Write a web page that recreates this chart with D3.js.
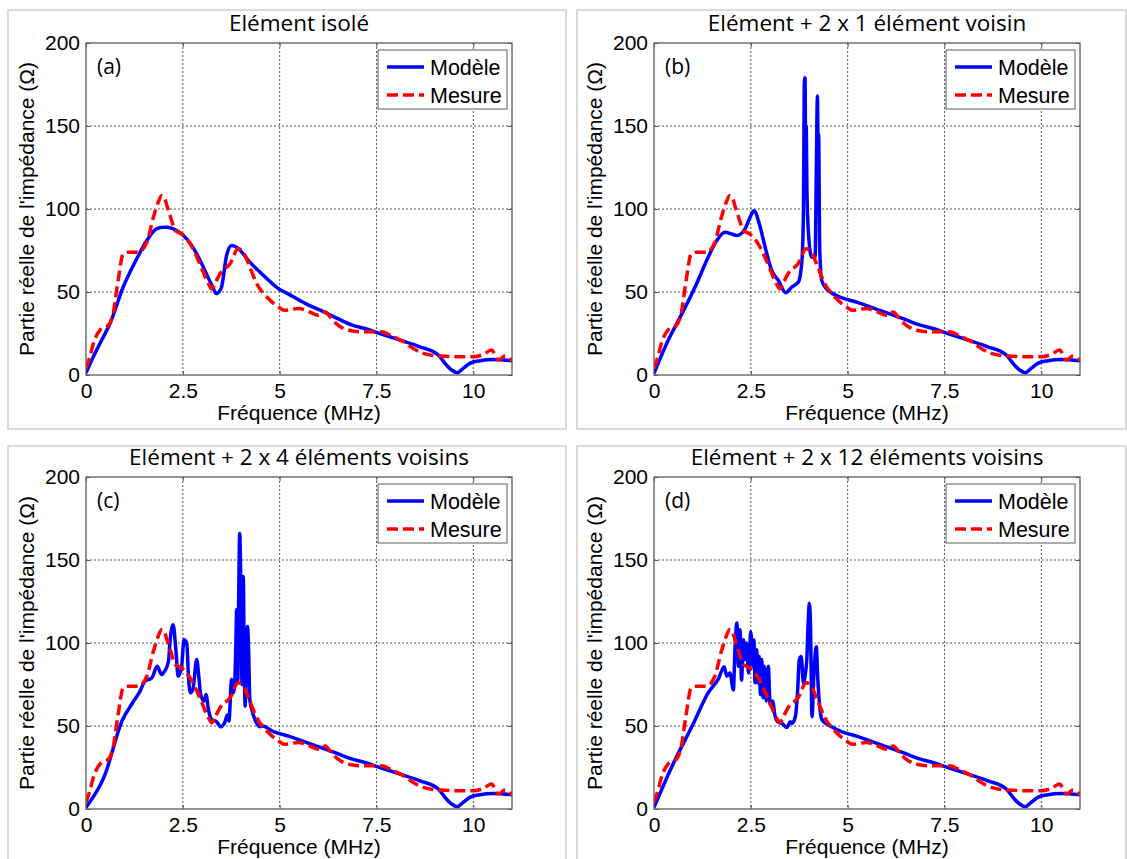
<!DOCTYPE html>
<html>
<head>
<meta charset="utf-8">
<script src="https://cdn.jsdelivr.net/npm/d3@7"></script>
<style>
  html, body { margin: 0; padding: 0; background: #ffffff; }
  svg { display: block; }
</style>
</head>
<body>
<svg id="chart" width="1127" height="859"></svg>
<script>
// ---------------- DATA ----------------
const xTickValues = [0, 2.5, 5, 7.5, 10];
const xTickLabels = ["0", "2.5", "5", "7.5", "10"];
const yTickValues = [0, 50, 100, 150, 200];
const yTickLabels = ["0", "50", "100", "150", "200"];

const panelTitles = [
  "Elément isolé",
  "Elément + 2 x 1 élément voisin",
  "Elément + 2 x 4 éléments voisins",
  "Elément + 2 x 12 éléments voisins"
];
const panelTags = ["(a)", "(b)", "(c)", "(d)"];
const seriesNames = ["Modèle", "Mesure"];

// Mesure (same measurement in every panel)
const mesureFreq = [0, 0.1, 0.19, 0.36, 0.5, 0.58, 0.7, 0.83, 0.96, 1.1, 1.35, 1.57, 1.74, 1.88, 1.95, 2.02, 2.1, 2.2, 2.3, 2.47, 2.69, 2.94, 3.16, 3.25, 3.35, 3.46, 3.72, 3.93, 4.06, 4.23, 4.41, 4.67, 4.97, 5.12, 5.49, 5.77, 6.0, 6.18, 6.3, 6.51, 6.79, 7.16, 7.62, 7.94, 8.2, 8.45, 8.71, 9.14, 9.6, 10.0, 10.26, 10.47, 10.65, 10.82, 11.0];
const mesureVal  = [4, 11, 19, 27, 29, 30, 37, 57, 73, 74, 74, 80, 95, 105, 108, 107, 101, 94, 87, 85, 79, 67, 55, 52, 56, 61, 67, 76, 74, 65, 55, 47, 41, 39, 40, 38, 36, 38, 35, 30, 27, 26, 26, 23, 20, 16, 13, 11.4, 11, 11, 12.4, 15, 9, 11.4, 8.6];

// Modèle (a) : isolated element
const modeleAFreq = [0, 0.23, 0.45, 0.62, 0.96, 1.31, 1.57, 1.82, 2.0, 2.08, 2.34, 2.6, 2.86, 3.07, 3.25, 3.37, 3.43, 3.5, 3.63, 3.76, 3.89, 4.23, 4.58, 4.97, 5.21, 5.67, 6.14, 6.5, 6.88, 7.2, 7.59, 8.11, 8.62, 9.1, 9.27, 9.44, 9.59, 9.74, 9.91, 10.17, 10.52, 11.0];
const modeleAVal  = [1.4, 13, 23, 31, 53, 70, 81, 88, 89, 89, 87, 82, 73, 63, 54, 49, 50, 53, 72, 78, 77, 68, 60, 52, 49, 43, 38, 34, 30, 28, 25, 21, 17, 12, 7, 3, 1.4, 4, 7, 8.6, 9.4, 8.6];

// Modèle (b), (c), (d) : low-frequency part
const modeleBFreq = [0, 0.41, 0.59, 1.1, 1.36, 1.62, 1.83, 2.0, 2.14, 2.35, 2.5, 2.58, 2.72, 2.87, 3.04, 3.21, 3.4, 3.56, 3.73, 3.82, 3.86, 3.88, 3.9, 3.92, 3.93, 3.95, 3.99, 4.07, 4.16, 4.19, 4.22, 4.24, 4.25, 4.28, 4.33, 4.45];
const modeleBVal  = [1, 23, 31, 55, 69, 81, 86, 85, 84, 88, 96, 99, 91, 77, 63, 57, 49.6, 53, 56, 69, 100, 175, 179, 120, 150, 110, 85, 71, 71, 120, 168, 120, 145, 75, 57, 52];

const modeleCFreq = [0, 0.47, 0.94, 1.22, 1.39, 1.52, 1.7, 1.84, 1.95, 2.03, 2.13, 2.17, 2.25, 2.32, 2.38, 2.47, 2.53, 2.6, 2.65, 2.7, 2.76, 2.86, 2.92, 2.96, 3.05, 3.1, 3.16, 3.24, 3.37, 3.48, 3.59, 3.65, 3.69, 3.76, 3.8, 3.84, 3.87, 3.89, 3.92, 3.94, 3.97, 4.0, 4.03, 4.06, 4.09, 4.11, 4.13, 4.17, 4.2, 4.23, 4.28, 4.36, 4.49];
const modeleCVal  = [1, 19.5, 53.6, 64.6, 70.7, 77, 79, 86, 81, 83, 89, 101, 111, 96, 80, 86, 102, 100, 78, 70, 72, 90, 78, 69, 65, 69, 60, 54, 52.6, 49.6, 52.6, 56.6, 53, 78, 70, 76, 100, 120, 77, 122, 166, 130, 75, 140, 80, 62, 78, 110, 95, 66, 60, 54, 49.6];

const modeleDFreq = [0, 0.46, 1.02, 1.39, 1.67, 1.81, 1.88, 1.96, 2.05, 2.09, 2.14, 2.18, 2.22, 2.26, 2.31, 2.35, 2.39, 2.44, 2.5, 2.55, 2.58, 2.61, 2.65, 2.68, 2.71, 2.75, 2.78, 2.82, 2.85, 2.9, 2.95, 3.0, 3.06, 3.13, 3.19, 3.3, 3.43, 3.52, 3.56, 3.65, 3.71, 3.75, 3.8, 3.86, 3.9, 3.95, 3.98, 4.01, 4.04, 4.08, 4.13, 4.19, 4.23, 4.28, 4.34];
const modeleDVal  = [1, 25.5, 51.6, 69.7, 78.7, 85.7, 80, 82, 71.7, 95.8, 112, 86, 108, 77.7, 102, 90, 100, 82, 106.8, 86, 101.8, 76, 96, 76, 92, 69, 90, 67, 86, 65, 86, 63, 65, 55.6, 52.6, 51.6, 49.2, 52.6, 51.6, 55.6, 71.7, 89.8, 91.8, 75.7, 80, 92, 112, 124, 112, 55.6, 81.7, 97.8, 78, 61.6, 53.6];

// Modèle (b), (c), (d) : common high-frequency part
const tailFreq = [4.55, 4.84, 5.27, 5.87, 6.47, 6.88, 7.2, 7.59, 8.11, 8.62, 9.1, 9.27, 9.44, 9.59, 9.74, 9.91, 10.17, 10.52, 11.0];
const tailVal  = [50, 46.6, 43.6, 38.6, 33.6, 30, 28, 25, 21, 17, 12, 7, 3, 1.4, 4, 7, 8.6, 9.4, 8.6];

// ---------------- BUILD ----------------
const zip = (f, v) => f.map((d, i) => ({ f: d, v: v[i] }));
const mesure = zip(mesureFreq, mesureVal);
const modeles = [
  zip(modeleAFreq, modeleAVal),
  zip(modeleBFreq.concat(tailFreq), modeleBVal.concat(tailVal)),
  zip(modeleCFreq.concat(tailFreq), modeleCVal.concat(tailVal)),
  zip(modeleDFreq.concat(tailFreq), modeleDVal.concat(tailVal))
];

const svg = d3.select("#chart");

const layout = [
  { fx: 8,   fy: 10,  fw: 558, fh: 419, L: 86,  T: 43 },
  { fx: 577, fy: 10,  fw: 549, fh: 419, L: 654, T: 43 },
  { fx: 8,   fy: 446, fw: 558, fh: 430, L: 86,  T: 477 },
  { fx: 577, fy: 446, fw: 549, fh: 430, L: 654, T: 477 }
];
const PW = 426, PH = 332;

const BLUE = "#0000ff", RED = "#ff0000";
const sansFont = "'Liberation Sans', Arial, Helvetica, sans-serif";
const titleFont = "'Open Sans', 'Noto Sans', sans-serif";

layout.forEach((lay, i) => {
  svg.append("rect")
    .attr("x", lay.fx).attr("y", lay.fy)
    .attr("width", lay.fw).attr("height", lay.fh)
    .attr("fill", "none").attr("stroke", "#cfcfcf").attr("stroke-width", 1.5);

  const g = svg.append("g").attr("transform", `translate(${lay.L},${lay.T})`);
  const x = d3.scaleLinear().domain([0, 11]).range([0, PW]);
  const y = d3.scaleLinear().domain([0, 200]).range([PH, 0]);

  g.append("rect").attr("width", PW).attr("height", PH).attr("fill", "#fff");

  const grid = g.append("g").attr("stroke", "#555").attr("stroke-width", 1)
    .attr("stroke-dasharray", "2,2");
  xTickValues.filter(t => t > 0).forEach(t => {
    grid.append("line").attr("x1", x(t)).attr("x2", x(t)).attr("y1", 0).attr("y2", PH);
  });
  yTickValues.filter(t => t > 0 && t < 200).forEach(t => {
    grid.append("line").attr("x1", 0).attr("x2", PW).attr("y1", y(t)).attr("y2", y(t));
  });

  const fmtX = (d) => xTickLabels[xTickValues.indexOf(d)];
  const fmtY = (d) => yTickLabels[yTickValues.indexOf(d)];
  const ax = [
    g.append("g").attr("transform", `translate(0,${PH})`)
      .call(d3.axisBottom(x).tickValues(xTickValues).tickFormat(fmtX).tickSize(-4).tickPadding(8)),
    g.append("g")
      .call(d3.axisLeft(y).tickValues(yTickValues).tickFormat(fmtY).tickSize(-4).tickPadding(6)),
    g.append("g")
      .call(d3.axisTop(x).tickValues(xTickValues).tickFormat("").tickSize(-4)),
    g.append("g").attr("transform", `translate(${PW},0)`)
      .call(d3.axisRight(y).tickValues(yTickValues).tickFormat("").tickSize(-4))
  ];
  ax.forEach(a => {
    a.select(".domain").remove();
    a.selectAll(".tick line").attr("stroke", "#555");
    a.selectAll("text").attr("font-family", sansFont).attr("font-size", 21).attr("fill", "#000");
  });

  const clipId = "clip" + i;
  g.append("clipPath").attr("id", clipId)
    .append("rect").attr("width", PW).attr("height", PH);

  const line = d3.line().x(d => x(d.f)).y(d => y(d.v)).curve(d3.curveMonotoneX);

  const plotG = g.append("g").attr("clip-path", `url(#${clipId})`);
  plotG.append("path").datum(modeles[i])
    .attr("d", line).attr("fill", "none").attr("stroke", BLUE)
    .attr("stroke-width", 3.5).attr("stroke-linejoin", "round");
  plotG.append("path").datum(mesure)
    .attr("d", line).attr("fill", "none").attr("stroke", RED)
    .attr("stroke-width", 3.5).attr("stroke-dasharray", "11,5");

  g.append("rect").attr("width", PW).attr("height", PH)
    .attr("fill", "none").attr("stroke", "#5a5a5a").attr("stroke-width", 1.3);

  g.append("text").attr("x", PW / 2).attr("y", -12)
    .attr("text-anchor", "middle").attr("font-family", titleFont)
    .attr("font-size", 22.5).attr("fill", "#000").text(panelTitles[i]);

  g.append("text").attr("x", 11).attr("y", 31)
    .attr("font-family", titleFont).attr("font-size", 21).attr("fill", "#000")
    .text(panelTags[i]);

  g.append("text").attr("x", PW / 2).attr("y", PH + 45)
    .attr("text-anchor", "middle").attr("font-family", sansFont)
    .attr("font-size", 21).attr("fill", "#000").text("Fréquence (MHz)");
  g.append("text")
    .attr("transform", `translate(${-60},${PH / 2}) rotate(-90)`)
    .attr("text-anchor", "middle").attr("dominant-baseline", "central")
    .attr("font-family", sansFont).attr("font-size", 21).attr("fill", "#000")
    .text("Partie réelle de l'impédance (Ω)");

  const lg = g.append("g").attr("transform", `translate(${PW - 134},7)`);
  lg.append("rect").attr("width", 129).attr("height", 59)
    .attr("fill", "#fff").attr("stroke", "#777").attr("stroke-width", 1.2);
  const rows = [{ c: BLUE, dash: null, name: seriesNames[0], yy: 17 },
                { c: RED, dash: "11,5", name: seriesNames[1], yy: 45 }];
  rows.forEach(r => {
    lg.append("line").attr("x1", 9).attr("x2", 46).attr("y1", r.yy).attr("y2", r.yy)
      .attr("stroke", r.c).attr("stroke-width", 3.5)
      .attr("stroke-dasharray", r.dash);
    lg.append("text").attr("x", 52).attr("y", r.yy).attr("dy", "0.35em")
      .attr("font-family", sansFont).attr("font-size", 21.5).attr("fill", "#000")
      .text(r.name);
  });
});
</script>
</body>
</html>
